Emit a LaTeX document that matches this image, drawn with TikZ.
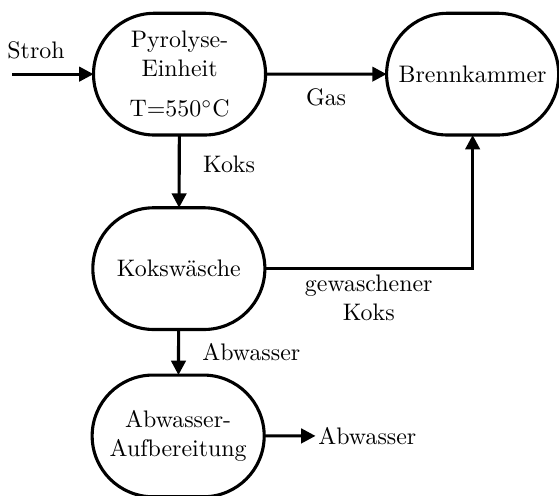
\documentclass[tikz,border=0pt]{standalone}
\usetikzlibrary{arrows.meta,shapes.misc}

\begin{document}
\begin{tikzpicture}[x=1cm,y=1cm, >={Triangle[length=6pt,width=6pt]},
  unit/.style={draw, rounded rectangle, line width=1.3pt, align=center, minimum width=2.53cm, minimum height=1.79cm, inner sep=0pt, outer sep=0pt},
  flow/.style={->, line width=1.3pt}]
\useasboundingbox (0,0) rectangle (8.22,-7.29);
\node[unit] (pyro) at (2.64,-1.09) {Pyrolyse-\\ Einheit\\[5pt] T=550$^\circ$C};
\node[unit] (brenn) at (6.95,-1.09) {Brennkammer};
\node[unit] (wash) at (2.63,-3.95) {Kokswäsche};
\node[unit] (water) at (2.62,-6.41) {Abwasser-\\ Aufbereitung};
\coordinate (feed) at (0.18,-1.09);
\node (stroh) at (0.53,-0.74) {Stroh};
\node[anchor=west, inner sep=1pt] (out) at (4.64,-6.41) {Abwasser};
\draw[flow] (feed) -- (pyro);
\draw[flow] (pyro) -- node[below=2pt] {Gas} (brenn);
\draw[flow] (pyro) -- node[right=6pt, pos=0.4] {Koks} (wash);
\draw[flow] (wash) -| node[below, pos=0.25, align=center, inner sep=2pt] {gewaschener\\ Koks} (brenn);
\draw[flow] (wash) -- node[right=6pt] {Abwasser} (water);
\draw[flow] (water) -- (out);
\end{tikzpicture}
\end{document}
